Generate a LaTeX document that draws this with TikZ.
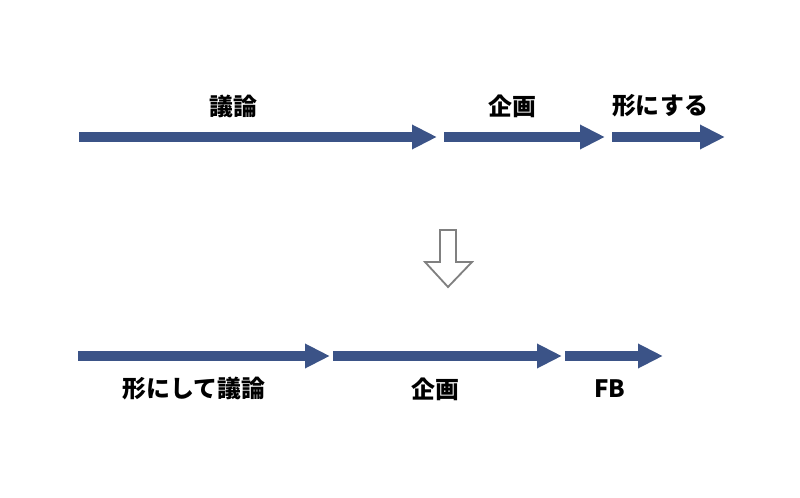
\documentclass[tikz,border=0pt]{standalone}
\usepackage{fontspec}
\newfontfamily\jpfont{Noto Sans CJK JP}
\usepackage{xcolor}
\usetikzlibrary{arrows.meta}
\definecolor{flowblue}{RGB}{59,83,135}
\definecolor{hollowgray}{RGB}{128,128,128}

\tikzset{
  flow/.style={draw=flowblue, line width=10*0.025cm,
    -{Triangle[length=25*0.025cm, width=23*0.025cm]}},
  lbl/.style={font=\jpfont\bfseries\fontsize{17}{20}\selectfont, inner sep=0pt}
}

\begin{document}
\begin{tikzpicture}[x=0.025cm, y=-0.025cm]
  \useasboundingbox (0,0) rectangle (800,498);

  % current flow: discuss, plan, build
  \coordinate (t0) at (79,137);
  \coordinate (t1) at (437,137);
  \coordinate (t2) at (444,137);
  \coordinate (t3) at (605,137);
  \coordinate (t4) at (612,137);
  \coordinate (t5) at (725,137);
  \draw[flow] (t0) -- (t1);
  \draw[flow] (t2) -- (t3);
  \draw[flow] (t4) -- (t5);
  \node[lbl] (giron) at (233,106) {議論};
  \node[lbl] (kikaku) at (512,106) {企画};
  \node[lbl] (katachi) at (660,106) {形にする};

  % hollow down arrow
  \draw[hollowgray, line width=1.3pt, fill=white, line join=miter]
    (440,230) -- (456,230) -- (456,262) -- (472,262) -- (448,287)
    -- (425,262) -- (440,262) -- cycle;

  % new flow
  \coordinate (b0) at (78,356);
  \coordinate (b1) at (330,356);
  \coordinate (b2) at (333,356);
  \coordinate (b3) at (562,356);
  \coordinate (b4) at (565,356);
  \coordinate (b5) at (663,356);
  \draw[flow] (b0) -- (b1);
  \draw[flow] (b2) -- (b3);
  \draw[flow] (b4) -- (b5);
  \node[lbl] (katagiron) at (194,389) {形にして議論};
  \node[lbl] (kikaku2) at (435,389) {企画};
  \node[lbl] (fb) at (610,389) {FB};
\end{tikzpicture}
\end{document}
